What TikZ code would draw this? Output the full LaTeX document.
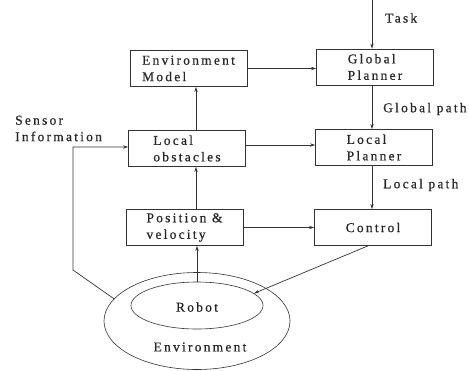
\documentclass[tikz,border=0pt]{standalone}
\usepackage{fontspec}
\setmainfont{Liberation Serif}[LetterSpace=16.5, FakeBold=0.6]
\usetikzlibrary{arrows.meta,shapes.geometric}
\begin{document}
\begin{tikzpicture}[x=1pt,y=-1pt,
  every node/.style={font=\fontsize{13.5}{16.5}\selectfont, text=black!85},
  blockbox/.style={draw=black!80, line width=0.7pt, rectangle,
    minimum width=117pt, minimum height=36pt, align=left, inner sep=0pt},
  lbl/.style={anchor=west, align=left, inner sep=0pt},
  flow/.style={draw=black!80, line width=0.7pt,
    -{Stealth[length=5pt,width=3.2pt]}},
  ring/.style={draw=black!80, line width=0.6pt, ellipse, inner sep=0pt}]
\useasboundingbox (0,0) rectangle (469,370);

% blocks
\node[blockbox] (em)  at (188.5,68.5) {Environment\\Model};
\node[blockbox] (gp)  at (375,67)     {Global\\Planner};
\node[blockbox] (lo)  at (187,148.5)  {Local\\obstacles};
\node[blockbox] (lp)  at (374,147.5)  {Local\\Planner};
\node[blockbox] (pv)  at (184.5,227.5){Position \&\\velocity};
\node[blockbox] (ctl) at (373,227.5)  {Control};

% robot inside its environment
\node[ring, minimum width=186pt, minimum height=97pt] (env) at (197,321) {};
\node[ring, minimum width=132pt, minimum height=47pt] (robot) at (197,305.5) {};
\node at (197,307) {Robot};
\node at (200,347) {Environment};

% reference points for the vertical lines
\coordinate (task) at (372,0);
\coordinate (mid)  at (196,0);
\coordinate (sens) at (73,0);

% labels
\node[lbl] (tasklbl) at (385,18)  {Task};
\node[lbl] (gpath)   at (383,109) {Global path};
\node[lbl] (lpath)   at (383,185) {Local path};
\node[lbl] (sinfo)   at (15,128.5) {Sensor\\Information};

% connectors
\draw[flow] (task) -- (task |- gp.north);
\draw[flow] (task |- gp.south) -- (task |- lp.north);
\draw[flow] (task |- lp.south) -- (task |- ctl.north);
\draw[flow] (em.east) -- (em.east -| gp.west);
\draw[flow] ([yshift=3.5pt]lo.east) -- ([yshift=3.5pt]lo.east -| lp.west);
\draw[flow] (pv.east) -- (pv.east -| ctl.west);
\draw[flow] (mid |- lo.north) -- (mid |- em.south);
\draw[flow] (mid |- pv.north) -- (mid |- lo.south);
\draw[flow] (robot.north) -- (robot.north |- pv.south);
\draw[flow] ([xshift=-5pt]ctl.south) -- (robot.12);
\draw[flow] (env.165) -- (sens |- 0,270) -- (sens |- 0,147) -- ([yshift=1.5pt]lo.west);
\end{tikzpicture}
\end{document}
